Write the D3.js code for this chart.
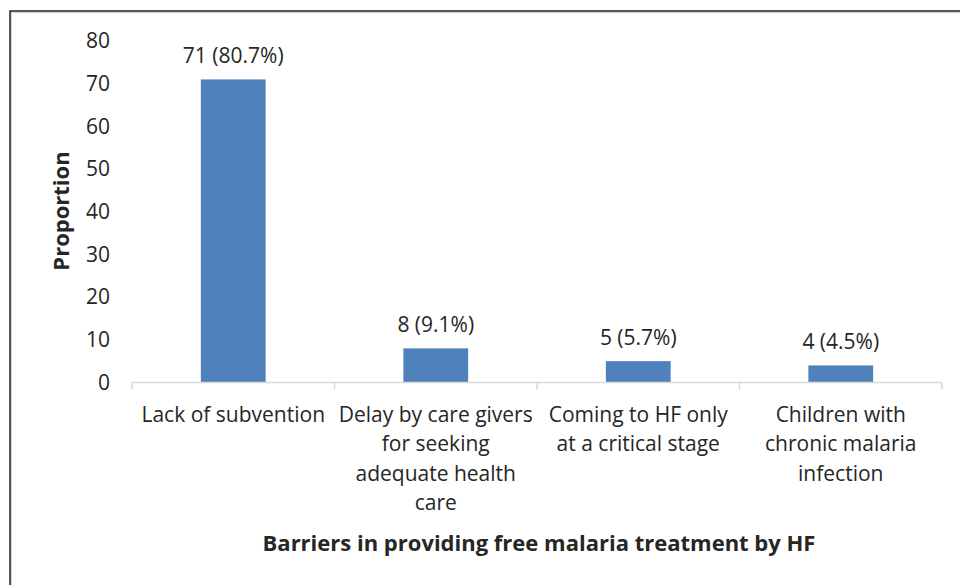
<!DOCTYPE html>
<html>
<head>
<meta charset="utf-8">
<script src="https://cdn.jsdelivr.net/npm/d3@7"></script>
<style>
  body { margin: 0; background: #fff; }
  text { font-family: "Open Sans", sans-serif; fill: #262626; }
</style>
</head>
<body>
<div id="chart"></div>
<script>
// Chart data
const categories = [
  "Lack of subvention",
  "Delay by care givers for seeking adequate health care",
  "Coming to HF only at a critical stage",
  "Children with chronic malaria infection"
];
const categoryLines = [
  ["Lack of subvention"],
  ["Delay by care givers", "for seeking", "adequate health", "care"],
  ["Coming to HF only", "at a critical stage"],
  ["Children with", "chronic malaria", "infection"]
];
const counts = [71, 8, 5, 4];
const dataLabels = ["71 (80.7%)", "8 (9.1%)", "5 (5.7%)", "4 (4.5%)"];
const yTicks = [0, 10, 20, 30, 40, 50, 60, 70, 80];

const width = 960, height = 585;
const plot = { left: 132, right: 942, top: 41, bottom: 382.5 };
const fontSize = "21px";

const svg = d3.select("#chart")
  .append("svg")
  .attr("width", width)
  .attr("height", height);

// Outer frame (only top and left edges fall inside the picture)
svg.append("rect")
  .attr("x", 11.5).attr("y", 12.5)
  .attr("width", 1000).attr("height", 1000)
  .attr("fill", "none")
  .attr("stroke", "#d0d0d0")
  .attr("stroke-width", 1);
svg.append("rect")
  .attr("x", 10).attr("y", 11)
  .attr("width", 1000).attr("height", 1000)
  .attr("fill", "none")
  .attr("stroke", "#222")
  .attr("stroke-width", 1.5);

const x = d3.scaleBand()
  .domain(categories)
  .range([plot.left, plot.right])
  .paddingInner(0.68)
  .paddingOuter(0.34);

const y = d3.scaleLinear()
  .domain([0, 80])
  .range([plot.bottom, plot.top]);

// Y axis labels (no axis line)
const yAxis = svg.append("g")
  .attr("transform", `translate(${plot.left},0)`)
  .call(d3.axisLeft(y).tickValues(yTicks).tickSize(0).tickPadding(22));
yAxis.select(".domain").remove();
yAxis.selectAll("text")
  .style("font-size", fontSize)
  .style("font-family", "'Open Sans', sans-serif")
  .attr("fill", "#262626");

// Bars
svg.append("g")
  .selectAll("rect")
  .data(counts)
  .enter()
  .append("rect")
  .attr("x", (d, i) => x(categories[i]))
  .attr("y", (d) => y(d))
  .attr("width", x.bandwidth())
  .attr("height", (d) => y(0) - y(d))
  .attr("fill", "#4f81bd");

// X axis line and category ticks
const boundaries = categories.map((c) => x(c) - x.step() * x.paddingInner() / 2);
boundaries.push(plot.right);
svg.append("line")
  .attr("x1", plot.left).attr("x2", plot.right)
  .attr("y1", plot.bottom).attr("y2", plot.bottom)
  .attr("stroke", "#d9d9d9").attr("stroke-width", 1.5);
svg.append("g")
  .selectAll("line")
  .data(boundaries)
  .enter()
  .append("line")
  .attr("x1", (d) => d).attr("x2", (d) => d)
  .attr("y1", plot.bottom).attr("y2", plot.bottom + 7)
  .attr("stroke", "#d9d9d9").attr("stroke-width", 1.5);

// Data labels
svg.append("g")
  .selectAll("text")
  .data(counts)
  .enter()
  .append("text")
  .attr("x", (d, i) => x(categories[i]) + x.bandwidth() / 2)
  .attr("y", (d) => y(d) - 16)
  .attr("text-anchor", "middle")
  .style("font-size", fontSize)
  .text((d, i) => dataLabels[i]);

// Category labels
const catG = svg.append("g");
categoryLines.forEach((lines, i) => {
  const cx = x(categories[i]) + x.bandwidth() / 2;
  const t = catG.append("text")
    .attr("x", cx)
    .attr("y", 421.5)
    .attr("text-anchor", "middle")
    .style("font-size", fontSize);
  lines.forEach((ln, j) => {
    t.append("tspan")
      .attr("x", cx)
      .attr("dy", j === 0 ? 0 : 29.5)
      .text(ln);
  });
});

// Axis titles
svg.append("text")
  .attr("x", 539).attr("y", 551)
  .attr("text-anchor", "middle")
  .style("font-size", "22px")
  .style("font-weight", "bold")
  .attr("fill", "#000")
  .text("Barriers in providing free malaria treatment by HF");

svg.append("text")
  .attr("transform", "translate(69,211) rotate(-90)")
  .attr("text-anchor", "middle")
  .style("font-size", "22px")
  .style("font-weight", "bold")
  .attr("fill", "#000")
  .text("Proportion");
</script>
</body>
</html>
